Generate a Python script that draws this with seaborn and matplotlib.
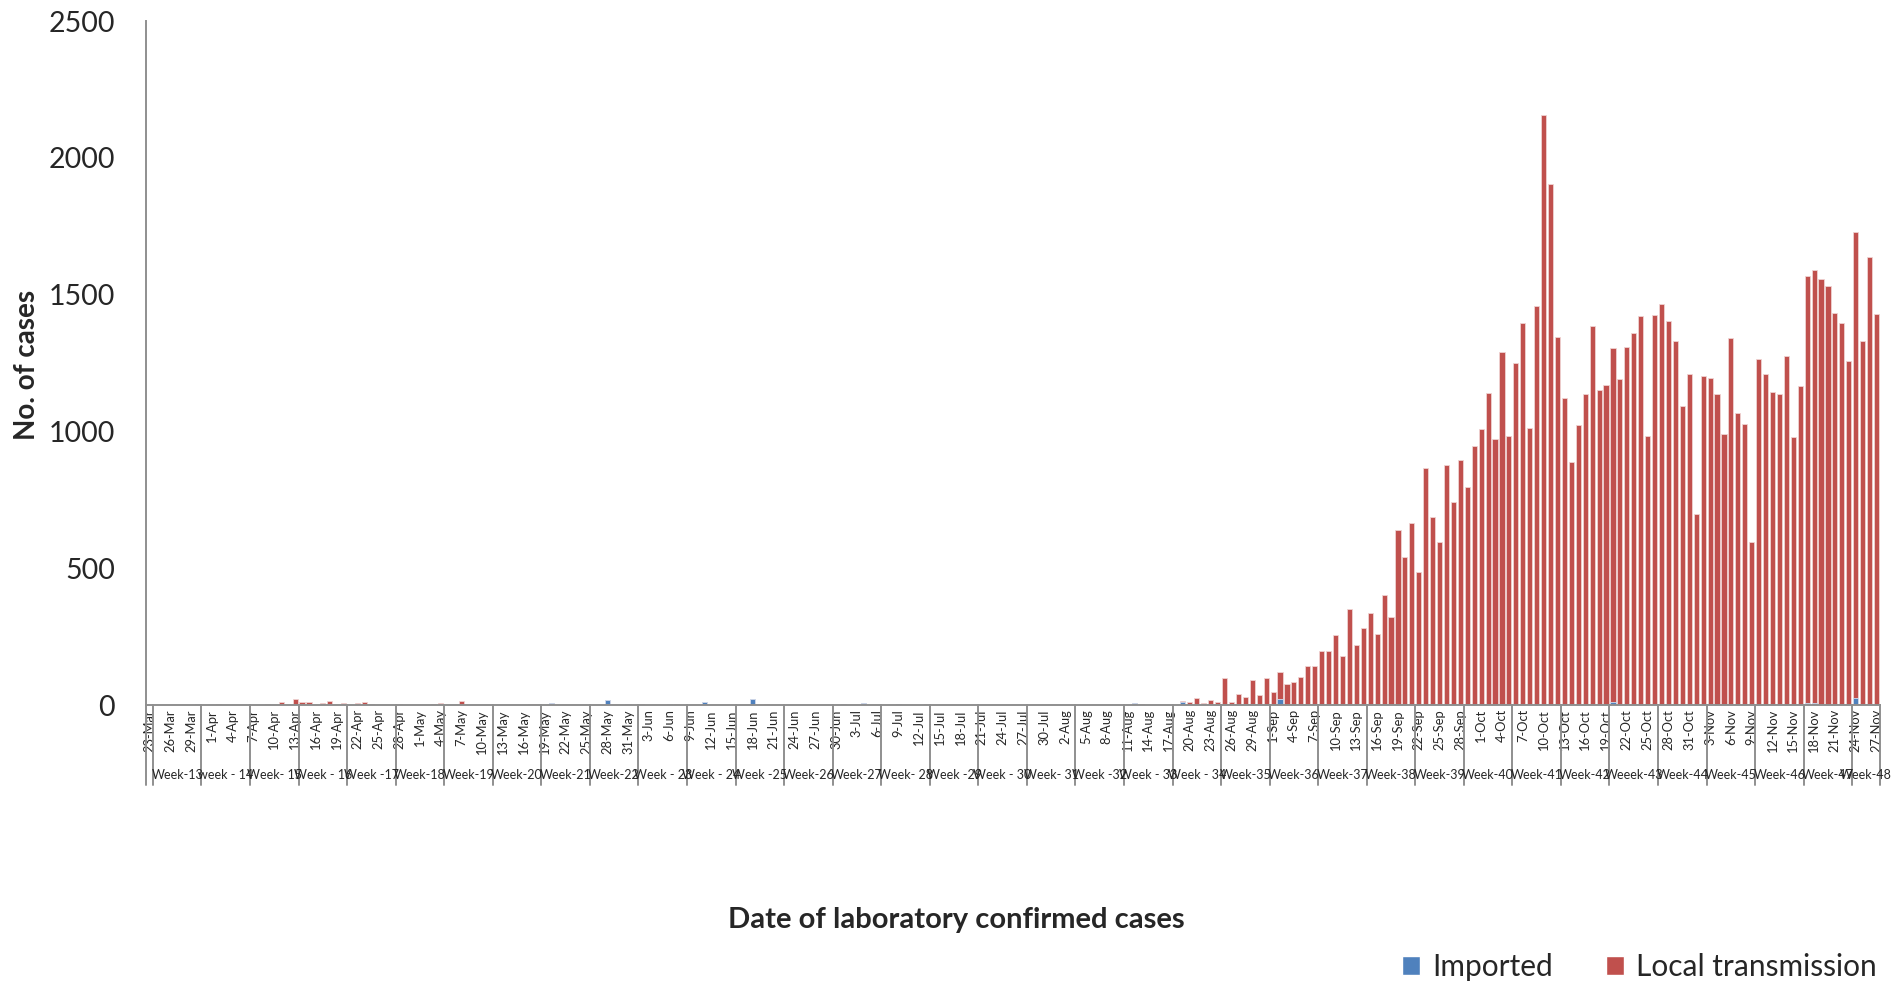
import numpy as np
import pandas as pd
import matplotlib
matplotlib.use('Agg')
import matplotlib.pyplot as plt
import seaborn as sns
from matplotlib.patches import Patch

# daily categories, 23-Mar .. 27-Nov
dates = pd.date_range('2020-03-23', '2020-11-27', freq='D')
date_labels = [f'{d.day}-{d:%b}' for d in dates]

# local transmission cases per day, 10 days per row
local = [
    0, 0, 0, 0, 1, 0, 0, 0, 0, 0,
    2, 0, 0, 0, 0, 0, 0, 5, 0, 10,
    0, 21, 11, 10, 0, 7, 13, 0, 7, 0,
    6, 11, 5, 0, 0, 0, 4, 0, 0, 0,
    0, 4, 7, 0, 0, 15, 0, 0, 0, 0,
    0, 0, 0, 0, 0, 5, 4, 0, 0, 0,
    0, 0, 0, 0, 0, 0, 0, 0, 0, 0,
    0, 5, 0, 0, 0, 0, 4, 0, 0, 0,
    0, 0, 0, 0, 0, 0, 0, 0, 0, 3,
    0, 0, 0, 0, 0, 0, 0, 0, 0, 0,
    0, 0, 0, 0, 0, 0, 0, 0, 0, 0,
    0, 0, 4, 0, 0, 0, 0, 0, 0, 0,
    0, 0, 0, 0, 0, 0, 0, 0, 0, 0,
    0, 0, 0, 0, 0, 0, 0, 0, 0, 0,
    0, 0, 0, 5, 0, 0, 0, 0, 0, 4,
    12, 24, 9, 18, 10, 97, 11, 40, 25, 88,
    37, 97, 49, 97, 76, 83, 104, 144, 144, 196,
    199, 256, 179, 350, 218, 283, 336, 258, 403, 322,
    639, 541, 664, 487, 868, 687, 596, 879, 742, 894,
    796, 946, 1008, 1142, 974, 1292, 985, 1251, 1398, 1011,
    1460, 2157, 1905, 1344, 1122, 887, 1025, 1137, 1385, 1150,
    1169, 1295, 1193, 1308, 1359, 1422, 985, 1425, 1466, 1405,
    1331, 1092, 1209, 697, 1201, 1192, 1135, 992, 1341, 1069,
    1027, 597, 1264, 1211, 1143, 1135, 1275, 981, 1166, 1562,
    1583, 1558, 1530, 1433, 1398, 1258, 1703, 1329, 1633, 1428,
]

# imported cases per day
imported = [
    0, 0, 0, 0, 0, 0, 0, 2, 0, 0,
    0, 0, 0, 0, 0, 0, 0, 0, 0, 0,
    0, 0, 0, 0, 0, 0, 0, 0, 0, 0,
    0, 0, 0, 0, 0, 0, 0, 0, 0, 0,
    0, 0, 0, 0, 0, 0, 0, 0, 0, 0,
    0, 0, 0, 0, 0, 0, 0, 0, 6, 0,
    0, 0, 0, 0, 0, 0, 18, 0, 0, 4,
    0, 0, 0, 0, 0, 4, 0, 0, 0, 0,
    11, 0, 0, 0, 0, 0, 0, 22, 0, 0,
    0, 0, 0, 0, 0, 0, 0, 0, 0, 0,
    5, 0, 0, 7, 0, 0, 0, 0, 3, 0,
    0, 0, 0, 0, 0, 0, 0, 0, 0, 0,
    0, 0, 0, 0, 0, 0, 0, 0, 0, 0,
    0, 0, 0, 0, 0, 0, 0, 0, 0, 0,
    0, 0, 7, 0, 0, 0, 0, 0, 0, 12,
    0, 0, 0, 0, 0, 0, 0, 0, 3, 3,
    0, 0, 0, 22, 0, 0, 0, 0, 0, 0,
    0, 0, 0, 0, 0, 0, 0, 0, 0, 0,
    0, 0, 0, 0, 0, 0, 0, 0, 0, 0,
    0, 0, 0, 0, 0, 0, 0, 0, 0, 0,
    0, 0, 0, 0, 0, 0, 0, 0, 0, 0,
    0, 10, 0, 0, 0, 0, 0, 0, 0, 0,
    0, 0, 0, 0, 0, 4, 0, 0, 0, 0,
    0, 0, 0, 0, 0, 0, 0, 0, 0, 6,
    8, 0, 0, 0, 0, 0, 26, 0, 5, 0,
]

week_labels = [
    'Week-13', 'week - 14', 'Week- 15', 'Week - 16', 'Week -17', 'Week-18',
    'Week-19', 'Week-20', 'Week-21', 'Week-22', 'Week - 23', 'Week - 24',
    'Week -25', 'Week-26', 'Week-27', 'Week- 28', 'Week -29', 'Week - 30',
    'Week- 31', 'Week -32', 'Week - 33', 'Week - 34', 'Week-35', 'Week-36',
    'Week-37', 'Week-38', 'Week-39', 'Week-40', 'Week-41', 'Week-42',
    'Weeek-43', 'Week-44', 'Week-45', 'Week-46', 'Week-47', 'Week-48',
]
yticks = [0, 500, 1000, 1500, 2000, 2500]

RED = '#C0504D'
BLUE = '#4F81BD'
GRAY = '#8f8f8f'

sns.set_style('white')
plt.rcParams['font.family'] = ['Lato', 'DejaVu Sans']

df = pd.DataFrame({'date': date_labels, 'local': local, 'imported': imported})
df['total'] = df['local'] + df['imported']

fig = plt.figure(figsize=(18.98, 9.81), dpi=100)
ax = fig.add_axes([146 / 1898, 1 - 705 / 981, (1880 - 146) / 1898, (705 - 21) / 981])

# stacked look: total in red, imported drawn over its base in blue
sns.barplot(data=df, x='date', y='total', color=RED, saturation=1, width=0.74,
            errorbar=None, edgecolor='#efd3d2', linewidth=0.6, ax=ax)
sns.barplot(data=df, x='date', y='imported', color=BLUE, saturation=1, width=0.74,
            errorbar=None, edgecolor='#d3deef', linewidth=0.6, ax=ax)

n = len(date_labels)
ax.set_xlim(-0.5, n - 0.5)
ax.set_ylim(0, 2500)
ax.set_yticks(yticks)
ax.set_yticklabels([str(v) for v in yticks], fontsize=20.5)
ax.set_xticks(range(0, n, 3))
ax.set_xticklabels(date_labels[::3], rotation=90, fontsize=9.3)
ax.tick_params(axis='x', length=0, pad=3)
ax.tick_params(axis='y', direction='out', length=6.5, width=1.3, color=GRAY, pad=16)
ax.set_xlabel('')
ax.set_ylabel('')

for s in ['top', 'right']:
    ax.spines[s].set_visible(False)
for s in ['left', 'bottom']:
    ax.spines[s].set_color(GRAY)
    ax.spines[s].set_linewidth(1.4)

# week groups: Week-13 starts on 24-Mar, the last week is cut at 27-Nov
trans = ax.get_xaxis_transform()
starts = [1 + 7 * k for k in range(len(week_labels))]
ends = starts[1:] + [n]
ax.plot([-0.5, -0.5], [0, -0.117], transform=trans, color=GRAY, lw=1.4, clip_on=False)
for lab, s, e in zip(week_labels, starts, ends):
    ax.plot([s - 0.5, s - 0.5], [0, -0.117], transform=trans, color=GRAY, lw=1.4, clip_on=False)
    ax.text((s + e - 1) / 2, -0.1025, lab, transform=trans, ha='center', va='center', fontsize=9.0)
ax.plot([n - 0.5, n - 0.5], [0, -0.117], transform=trans, color=GRAY, lw=1.4, clip_on=False)

fig.text(27 / 1898, 1 - 365 / 981, 'No. of cases', rotation=90, ha='center', va='center',
         fontsize=20, fontweight='bold')
fig.text(956 / 1898, 1 - 920 / 981, 'Date of laboratory confirmed cases', ha='center', va='center',
         fontsize=21, fontweight='bold')

handles = [Patch(facecolor=BLUE, label='Imported'), Patch(facecolor=RED, label='Local transmission')]
fig.legend(handles=handles, loc='center right', bbox_to_anchor=(1877 / 1898, 1 - 967 / 981), ncol=2,
           frameon=False, fontsize=21.5, handlelength=0.6, handleheight=0.6, handletextpad=0.4,
           columnspacing=1.8, borderpad=0, borderaxespad=0)

fig.savefig('out.png', dpi=100)
